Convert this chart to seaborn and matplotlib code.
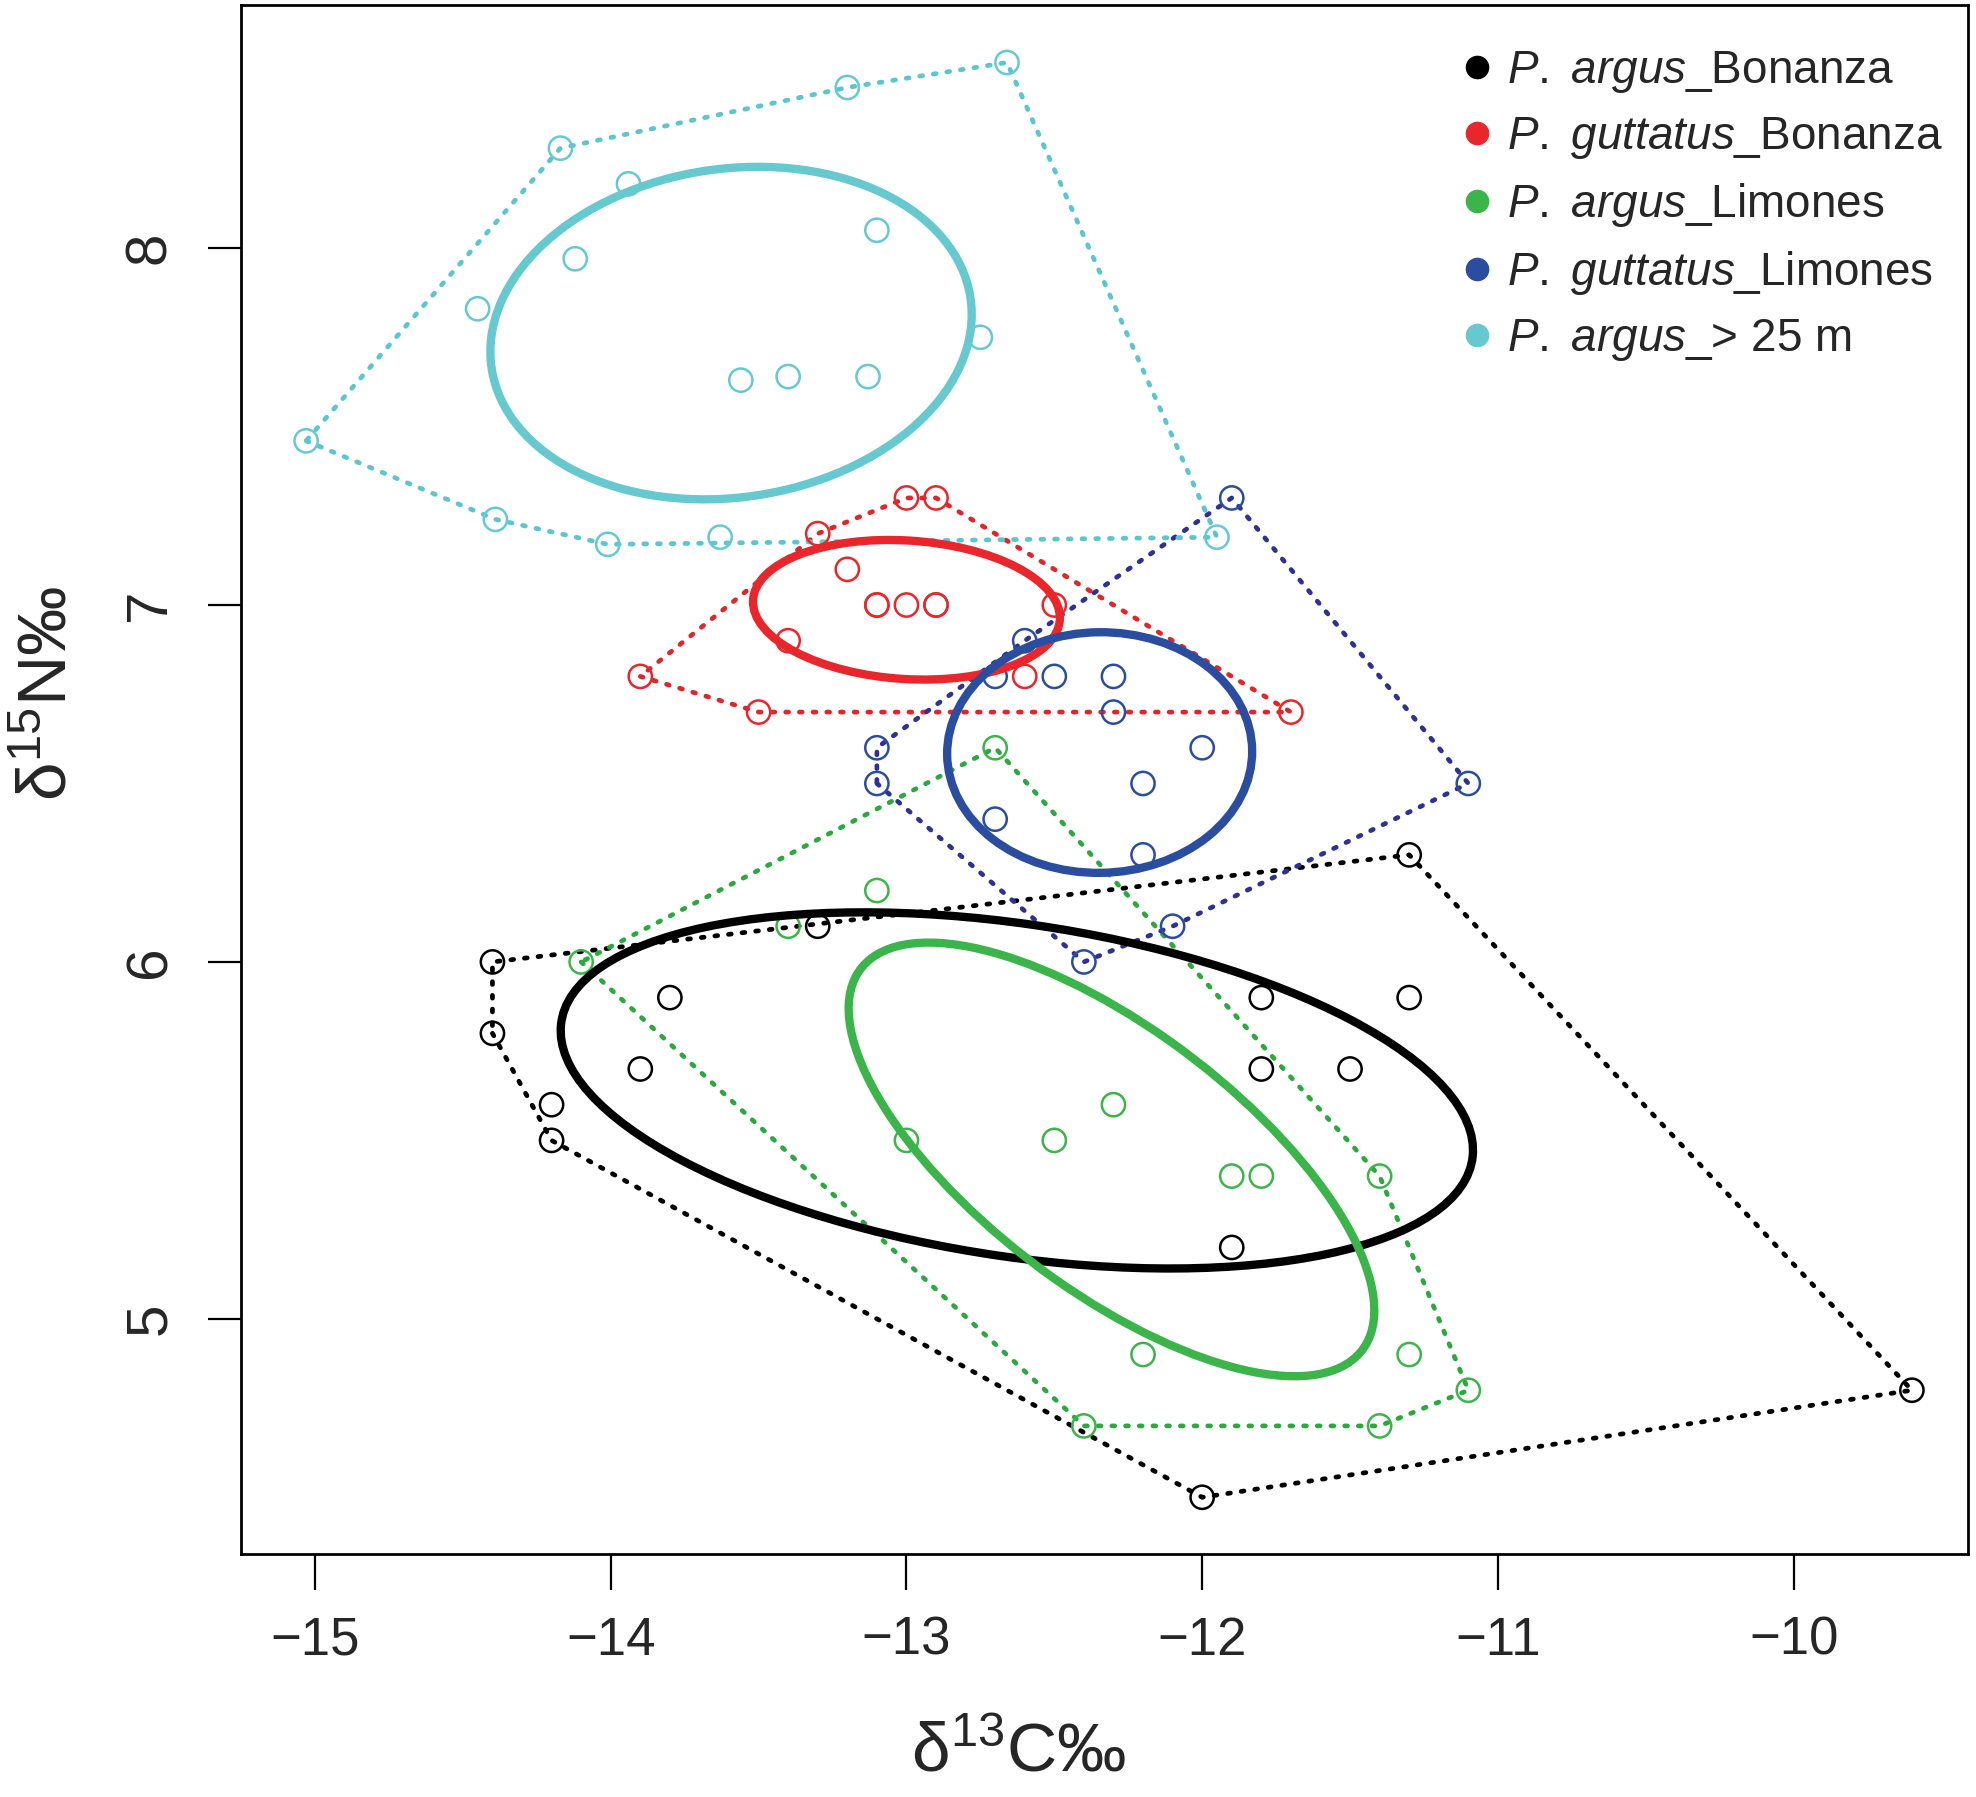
import numpy as np
import pandas as pd
import matplotlib
matplotlib.use('Agg')
import matplotlib.pyplot as plt
from matplotlib.patches import Ellipse
from matplotlib.lines import Line2D
import seaborn as sns

# Data (d13C, d15N per individual)
groups = ['P. argus_Bonanza', 'P. guttatus_Bonanza', 'P. argus_Limones',
          'P. guttatus_Limones', 'P. argus_> 25 m']
legend_labels = [r'$\mathit{P.\ argus}$_Bonanza', r'$\mathit{P.\ guttatus}$_Bonanza',
                 r'$\mathit{P.\ argus}$_Limones', r'$\mathit{P.\ guttatus}$_Limones',
                 r'$\mathit{P.\ argus}$_> 25 m']
colors = ['#000000', '#E8262B', '#3BB54A', '#2B4DA0', '#67C9D0']
hull_colors = ['#000000', '#E0262B', '#2BA83E', '#2E3192', '#5CC6CE']

argus_bon_c = [-11.3, -13.3, -14.4, -13.8, -11.8, -11.3, -14.4, -13.9, -11.8, -11.5,
               -14.2, -14.2, -11.9, -9.6, -12.0]
argus_bon_n = [6.3, 6.1, 6.0, 5.9, 5.9, 5.9, 5.8, 5.7, 5.7, 5.7, 5.6, 5.5, 5.2, 4.8, 4.5]

# two values overlap others at 7.0 (hidden under the visible circles)
gutt_bon_c = [-13.0, -12.9, -13.3, -13.2, -13.1, -13.0, -12.9, -12.5, -13.4, -13.9,
              -12.6, -13.5, -11.7, -13.1, -12.9]
gutt_bon_n = [7.3, 7.3, 7.2, 7.1, 7.0, 7.0, 7.0, 7.0, 6.9, 6.8, 6.8, 6.7, 6.7, 7.0, 7.0]

argus_lim_c = [-12.7, -13.1, -13.4, -14.1, -12.3, -13.0, -12.5, -11.9, -11.8, -11.4,
               -12.2, -11.3, -11.1, -12.4, -11.4]
argus_lim_n = [6.6, 6.2, 6.1, 6.0, 5.6, 5.5, 5.5, 5.4, 5.4, 5.4, 4.9, 4.9, 4.8, 4.7, 4.7]

gutt_lim_c = [-11.9, -12.6, -12.7, -12.5, -12.3, -12.3, -12.0, -13.1, -13.1, -12.2,
              -11.1, -12.7, -12.2, -12.1, -12.4]
gutt_lim_n = [7.3, 6.9, 6.8, 6.8, 6.8, 6.7, 6.6, 6.6, 6.5, 6.5, 6.5, 6.4, 6.3, 6.1, 6.0]

argus_deep_c = [-12.66, -13.20, -14.17, -13.94, -13.10, -14.12, -14.45, -12.75, -13.56,
                -13.40, -13.13, -15.03, -14.39, -14.01, -13.63, -11.95]
argus_deep_n = [8.52, 8.45, 8.28, 8.18, 8.05, 7.97, 7.83, 7.75, 7.63, 7.64, 7.64, 7.46,
                7.24, 7.17, 7.19, 7.19]

xs = [argus_bon_c, gutt_bon_c, argus_lim_c, gutt_lim_c, argus_deep_c]
ys = [argus_bon_n, gutt_bon_n, argus_lim_n, gutt_lim_n, argus_deep_n]

df = pd.concat([pd.DataFrame({'d13C': x, 'd15N': y, 'group': g})
                for x, y, g in zip(xs, ys, groups)], ignore_index=True)


def convex_hull(pts):
    pts = sorted(set(map(tuple, pts)))
    def cross(o, a, b):
        return (a[0] - o[0]) * (b[1] - o[1]) - (a[1] - o[1]) * (b[0] - o[0])
    lower, upper = [], []
    for p in pts:
        while len(lower) >= 2 and cross(lower[-2], lower[-1], p) <= 0:
            lower.pop()
        lower.append(p)
    for p in reversed(pts):
        while len(upper) >= 2 and cross(upper[-2], upper[-1], p) <= 0:
            upper.pop()
        upper.append(p)
    h = lower[:-1] + upper[:-1]
    return np.array(h + [h[0]])


def standard_ellipse(x, y, ax, color):
    # SEAc: small-sample corrected standard ellipse
    x = np.asarray(x); y = np.asarray(y)
    n = len(x)
    cov = np.cov(x, y)
    vals, vecs = np.linalg.eigh(cov)
    scale = np.sqrt((n - 1) / (n - 2))
    angle = np.degrees(np.arctan2(vecs[1, 1], vecs[0, 1]))
    e = Ellipse((x.mean(), y.mean()), 2 * np.sqrt(vals[1]) * scale,
                2 * np.sqrt(vals[0]) * scale, angle=angle,
                fill=False, edgecolor=color, lw=6, zorder=4)
    ax.add_patch(e)


sns.set_style('white')
plt.rcParams['font.family'] = ['Liberation Sans', 'DejaVu Sans']
plt.rcParams['mathtext.fontset'] = 'custom'
plt.rcParams['mathtext.rm'] = 'Liberation Sans'
plt.rcParams['mathtext.it'] = 'Liberation Sans:italic'

fig = plt.figure(figsize=(19.76, 17.97), dpi=100)
ax = fig.add_axes([0.122, 0.135, 0.874, 0.862])

sns.scatterplot(data=df, x='d13C', y='d15N', hue='group', hue_order=groups,
                palette=colors, marker='o', s=280, linewidth=1.8,
                legend=False, ax=ax, zorder=3)
# hollow circles as in the original
coll = ax.collections[-1]
coll.set_edgecolors(coll.get_facecolors())
coll.set_facecolors('none')

for x, y, c, hc in zip(xs, ys, colors, hull_colors):
    h = convex_hull(np.column_stack([x, y]))
    ax.plot(h[:, 0], h[:, 1], color=hc, lw=3.4, linestyle=(0, (0.6, 2.3)),
            dash_capstyle='round', zorder=2)
    standard_ellipse(x, y, ax, c)

ax.set_xlim(-15.25, -9.41)
ax.set_ylim(4.34, 8.68)
ax.set_xticks([-15, -14, -13, -12, -11, -10])
ax.set_yticks([5, 6, 7, 8])
ax.tick_params(axis='x', bottom=True, labelsize=38, length=26, width=1.6, pad=18,
               direction='out', color='black')
ax.tick_params(axis='y', left=True, labelsize=42, length=24, width=1.6, pad=22,
               direction='out', labelrotation=90, color='black')
for lab in ax.get_yticklabels():
    lab.set_verticalalignment('center')
for s in ax.spines.values():
    s.set_linewidth(2)
    s.set_color('black')

ax.set_xlabel('δ$^{\\mathrm{13}}$C‰', fontsize=50)
ax.set_ylabel('δ$^{\\mathrm{15}}$N‰', fontsize=50)
ax.xaxis.set_label_coords(0.45, -0.108)
ax.yaxis.set_label_coords(-0.093, 0.556)

handles = [Line2D([], [], marker='o', linestyle='none', markersize=16,
                  markerfacecolor=c, markeredgecolor=c) for c in colors]
ax.legend(handles, legend_labels, loc='upper left', bbox_to_anchor=(0.705, 0.972),
          frameon=False, fontsize=33, handlelength=0.8, handletextpad=0.25,
          labelspacing=0.44, borderaxespad=0, borderpad=0)

fig.savefig('out.png', dpi=100)
